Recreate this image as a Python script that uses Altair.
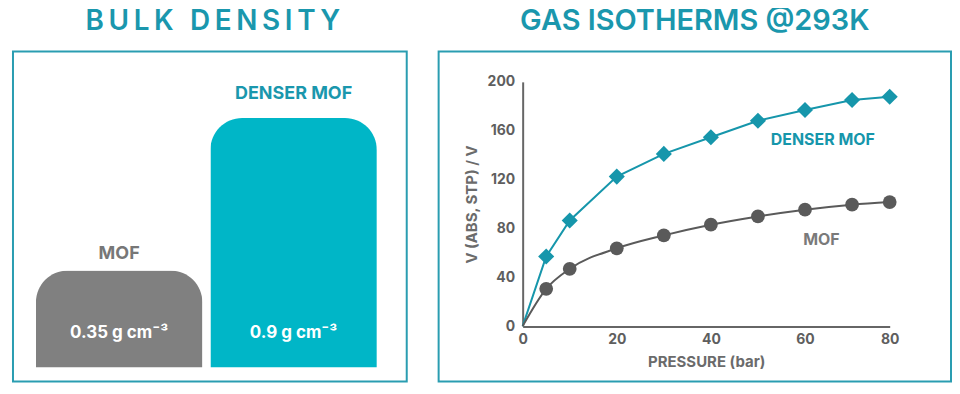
import altair as alt
import pandas as pd

# ---------------- data ----------------
materials = ["MOF", "DENSER MOF"]
densities = [0.35, 0.9]
density_labels = ["0.35 g cm⁻³", "0.9 g cm⁻³"]

pressure_dense = [0, 5, 10, 20, 30, 40, 50, 60, 70, 78]
uptake_dense = [0, 57, 86.5, 122.4, 141, 154.6, 168.2, 176.9, 185.1, 187.8]
pressure_mof = [0, 5, 10, 20, 30, 40, 50, 60, 70, 78]
uptake_mof = [0, 30.5, 46.9, 63.7, 74.3, 83, 89.8, 95.3, 99.4, 101.6]

x_ticks = [0, 20, 40, 60, 78]
y_ticks = [0, 40, 80, 120, 160, 200]

# ---------------- style ----------------
FONT = "Inter"
TITLE_TEAL = "#1a97ad"
BOX = "#2a9db1"
BAR_GRAY = "#808080"
BAR_TEAL = "#00b6c7"
LABEL_GRAY = "#777777"
DIAMOND = "#1696ab"
CIRCLE = "#5a5a5a"
AXIS_TEXT = "#5e5e5e"
TS = "\u2009"

bulk = pd.DataFrame({"material": materials, "density": densities, "label": density_labels})

xb = alt.X("material:N", sort=materials, axis=None,
           scale=alt.Scale(range=[23, 365], paddingInner=0.0457, paddingOuter=0))
yb = alt.Y("density:Q", axis=None, scale=alt.Scale(domain=[0, 1], range=[317, 39]))

bars = alt.Chart(bulk).mark_bar(cornerRadiusTopLeft=32, cornerRadiusTopRight=32).encode(
    x=xb, y=yb, y2=alt.value(331),
    color=alt.Color("material:N", legend=None,
                    scale=alt.Scale(domain=materials, range=[BAR_GRAY, BAR_TEAL])),
)
top_mof = alt.Chart(bulk).transform_filter(alt.datum.material == "MOF").mark_text(
    font=FONT, fontSize=18, fontWeight="bold", color=LABEL_GRAY, dy=-16
).encode(x=xb, y=yb, text="material:N")
top_dense = alt.Chart(bulk).transform_filter(alt.datum.material == "DENSER MOF").mark_text(
    font=FONT, fontSize=18, fontWeight="bold", color=TITLE_TEAL, dy=-24
).encode(x=xb, y=yb, text="material:N")
inside = alt.Chart(bulk).mark_text(
    font=FONT, fontSize=17, fontWeight="bold", color="white"
).encode(x=xb, y=alt.value(282), text="label:N")

left = alt.layer(bars, top_mof, top_dense, inside).properties(
    width=395, height=331,
    title=alt.TitleParams(TS.join("BULK DENSITY"), font=FONT, fontSize=28, fontWeight=600,
                          color=TITLE_TEAL, anchor="middle", baseline="alphabetic",
                          offset=-6.5, dx=3),
)

# ---------------- isotherms ----------------
iso = pd.concat([
    pd.DataFrame({"p": pressure_dense, "v": uptake_dense, "s": "DENSER MOF"}),
    pd.DataFrame({"p": pressure_mof, "v": uptake_mof, "s": "MOF"}),
])

axis_common = dict(ticks=False, grid=False, domainColor="#666666", domainWidth=2,
                   labelFont=FONT, labelFontSize=14, labelFontWeight="bold",
                   labelColor=AXIS_TEXT, titleFont=FONT, titleFontSize=15,
                   titleFontWeight="bold", titleColor="#6b6b6b", labelFlush=False)

xi = alt.X("p:Q", scale=alt.Scale(domain=[0, 78], range=[84.3, 452.5], nice=False),
           axis=alt.Axis(values=x_ticks, offset=-55, labelPadding=6,
                         labelExpr="datum.value >= 78 ? '80' : datum.label",
                         title="PRESSURE (bar)", titlePadding=8, **axis_common))
yi = alt.Y("v:Q", scale=alt.Scale(domain=[0, 200], range=[275.5, 30.5], nice=False),
           axis=alt.Axis(values=y_ticks, offset=-84.3, labelPadding=8,
                         title="V (ABS, STP) / V", titlePadding=8, **axis_common))

base = alt.Chart(iso)
line_dense = base.transform_filter(alt.datum.s == "DENSER MOF").mark_line(
    color=DIAMOND, strokeWidth=2).encode(x=xi, y=yi)
line_mof = base.transform_filter(alt.datum.s == "MOF").mark_line(
    color=CIRCLE, strokeWidth=2, interpolate="monotone").encode(x=xi, y=yi)
pts_dense = base.transform_filter((alt.datum.s == "DENSER MOF") & (alt.datum.p > 0)).mark_point(
    shape="diamond", filled=True, size=260, color=DIAMOND, opacity=1).encode(x=xi, y=yi)
pts_mof = base.transform_filter((alt.datum.s == "MOF") & (alt.datum.p > 0)).mark_point(
    shape="circle", filled=True, size=190, color=CIRCLE, opacity=1).encode(x=xi, y=yi)

lab = pd.DataFrame({"p": [63.8, 63.5], "v": [152.4, 70.2], "t": ["DENSER MOF", "MOF"]})
lab_dense = alt.Chart(lab).transform_filter(alt.datum.t == "DENSER MOF").mark_text(
    font=FONT, fontSize=16, fontWeight="bold", color=DIAMOND).encode(x=xi, y=yi, text="t:N")
lab_mof = alt.Chart(lab).transform_filter(alt.datum.t == "MOF").mark_text(
    font=FONT, fontSize=16, fontWeight="bold", color="#7a7a7a").encode(x=xi, y=yi, text="t:N")

right = alt.layer(line_dense, line_mof, pts_dense, pts_mof, lab_dense, lab_mof).properties(
    width=514, height=331,
    title=alt.TitleParams("GAS ISOTHERMS @293K", font=FONT, fontSize=29, fontWeight=600,
                          color=TITLE_TEAL, anchor="middle", baseline="alphabetic",
                          offset=-7.5),
)

chart = alt.hconcat(left, right, spacing=32, bounds="flush").properties(
    padding={"left": 4, "top": -3, "right": 0, "bottom": 0},
    background="white",
).configure_view(stroke=BOX, strokeWidth=2)

chart.save("out.html", embed_options={"renderer": "svg", "actions": False})
